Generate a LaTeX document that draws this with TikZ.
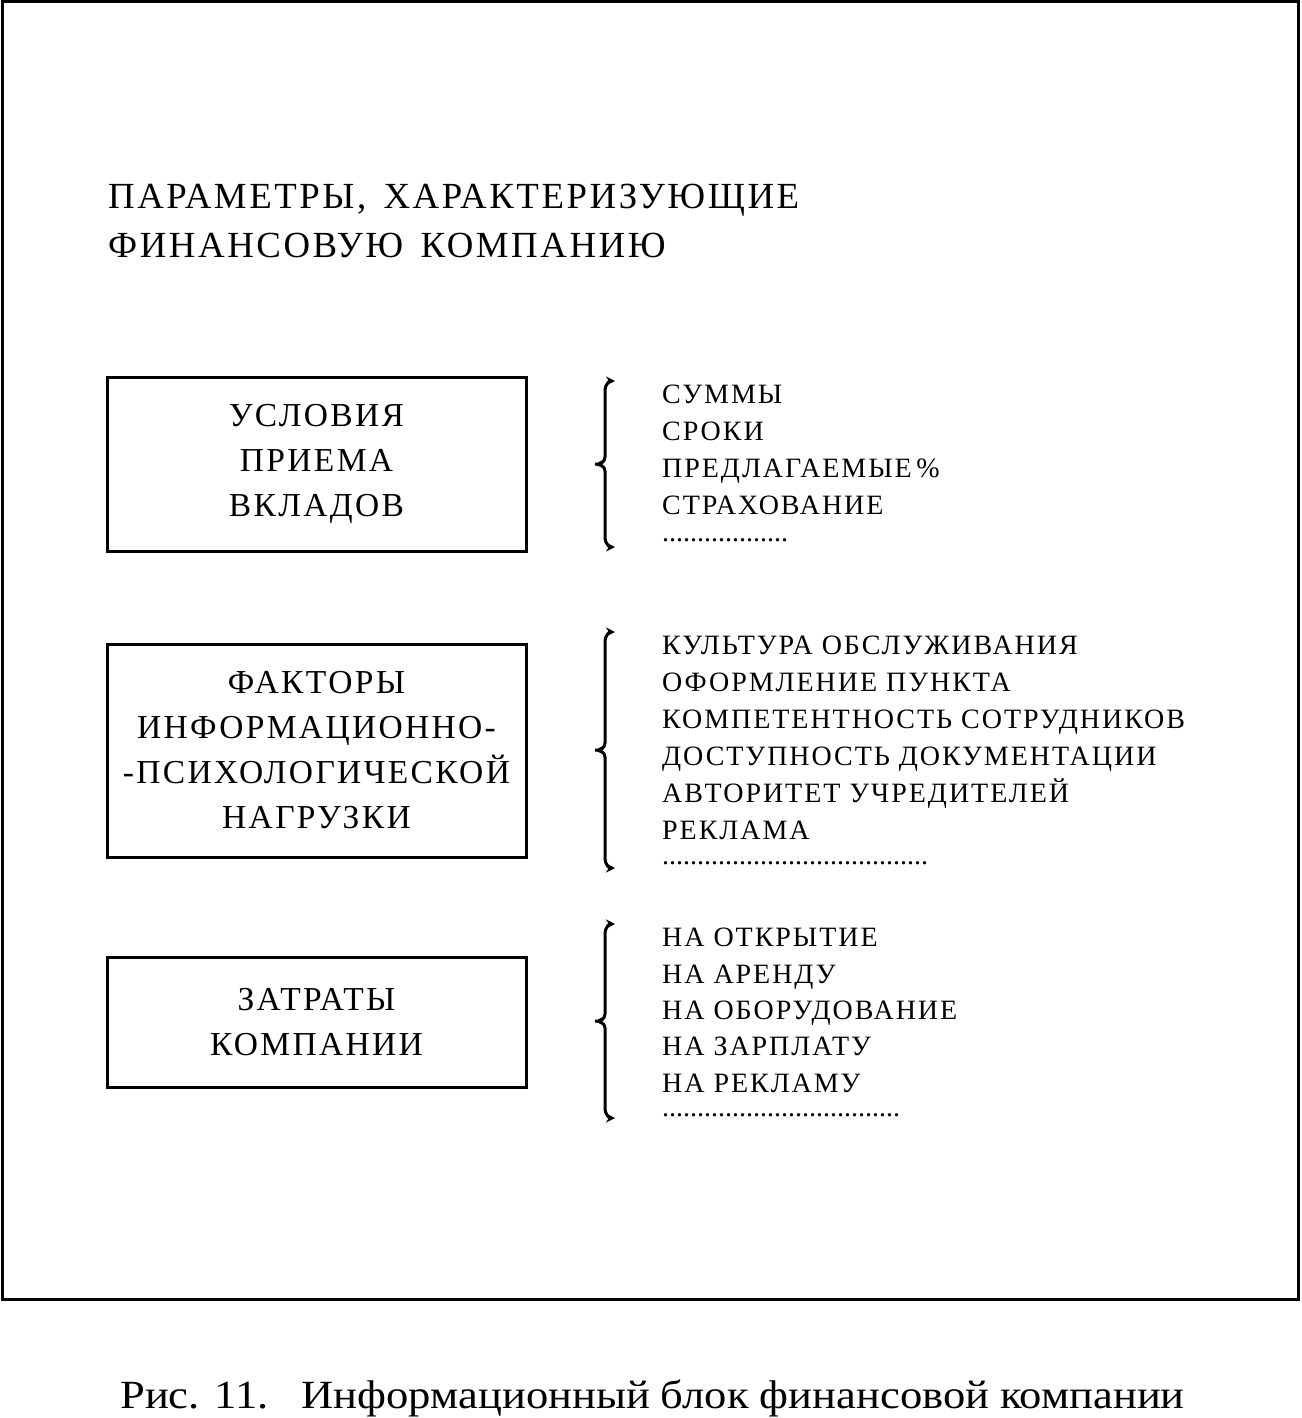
\documentclass[tikz,border=0pt]{standalone}
\usepackage{fontspec}
\setmainfont{Liberation Serif}
\newfontfamily\capsfont[LetterSpace=7,WordSpace=1.6]{Liberation Serif}
\newfontfamily\boxfont[LetterSpace=7]{Liberation Serif}
\newfontfamily\condfont[FakeStretch=1.115]{Liberation Serif}
\usetikzlibrary{arrows.meta}
\tikzset{
  frame/.style={line width=3pt},
  pbox/.style={draw, line width=3pt, minimum width=419pt, minimum height=#1, align=center, inner sep=0pt,
    font=\boxfont\fontsize{33.5}{45}\selectfont},
  plist/.style={anchor=base west, align=left, inner sep=0pt, font=\capsfont\fontsize{28}{#1}\selectfont},
  pdots/.style={anchor=base west, inner sep=0pt, font=\rmfamily\fontsize{28}{28}\selectfont},
  ptitle/.style={anchor=base west, align=left, inner sep=0pt,
    font=\rmfamily\addfontfeatures{LetterSpace=7}\fontsize{36.8}{48.5}\selectfont},
  brc/.style={line width=3pt},
  tip/.style={-{Stealth[length=9pt,width=9pt]}},
}
\newcommand\mybrace[3]{% x, mid y, half height
  \draw[brc, {Stealth[length=9pt,width=9pt]}-{Stealth[length=9pt,width=9pt]}]
    (#1-10,#2) to[out=0,in=-90] (#1,#2-7) -- (#1,#2-#3+9) to[out=90,in=180] (#1+10,#2-#3);
  \draw[brc, tip]
    (#1-10,#2) to[out=0,in=90] (#1,#2+7) -- (#1,#2+#3-9) to[out=-90,in=180] (#1+10,#2+#3);
}
\newcommand\dotrow[1]{\foreach \k in {1,...,#1}{.}}
\begin{document}
\begin{tikzpicture}[x=1pt,y=-1pt]
\useasboundingbox (0,0) rectangle (1301,1418);
\draw[frame] (2,2) rectangle (1298,1299);

\node[ptitle] (title) at (108,257) {ПАРАМЕТРЫ,\hspace{0.15em} ХАРАКТЕРИЗУЮЩИЕ\\ФИНАНСОВУЮ\hspace{0.15em} КОМПАНИЮ};

\node[pbox=174pt] (b1) at (316.5,464) {УСЛОВИЯ\\ПРИЕМА\\ВКЛАДОВ};
\node[pbox=213pt] (b2) at (316.5,750.5) {ФАКТОРЫ\\ИНФОРМАЦИОННО-\\-ПСИХОЛОГИЧЕСКОЙ\\НАГРУЗКИ};
\node[pbox=130pt] (b3) at (316.5,1022) {ЗАТРАТЫ\\КОМПАНИИ};

\node[plist=37] (l1) at (662,514) {СУММЫ\\СРОКИ\\ПРЕДЛАГАЕМЫЕ\,\%\\СТРАХОВАНИЕ};
\node[pdots] (d1) at (662,541) {\dotrow{18}};
\node[plist=37] (l2) at (662,839) {КУЛЬТУРА ОБСЛУЖИВАНИЯ\\ОФОРМЛЕНИЕ ПУНКТА\\КОМПЕТЕНТНОСТЬ СОТРУДНИКОВ\\ДОСТУПНОСТЬ ДОКУМЕНТАЦИИ\\АВТОРИТЕТ УЧРЕДИТЕЛЕЙ\\РЕКЛАМА};
\node[pdots] (d2) at (662,864) {\dotrow{38}};
\node[plist=36.3] (l3) at (662,1092) {НА ОТКРЫТИЕ\\НА АРЕНДУ\\НА ОБОРУДОВАНИЕ\\НА ЗАРПЛАТУ\\НА РЕКЛАМУ};
\node[pdots] (d3) at (662,1116) {\dotrow{34}};

\mybrace{605}{464}{83}
\mybrace{605}{750}{118}
\mybrace{605}{1021}{97}

\node[anchor=base, inner sep=0pt, font=\condfont\fontsize{40}{40}\selectfont] (cap) at (652.5,1408)
  {Рис. 11.\hspace{18pt} Информационный блок финансовой компании};
\end{tikzpicture}
\end{document}
